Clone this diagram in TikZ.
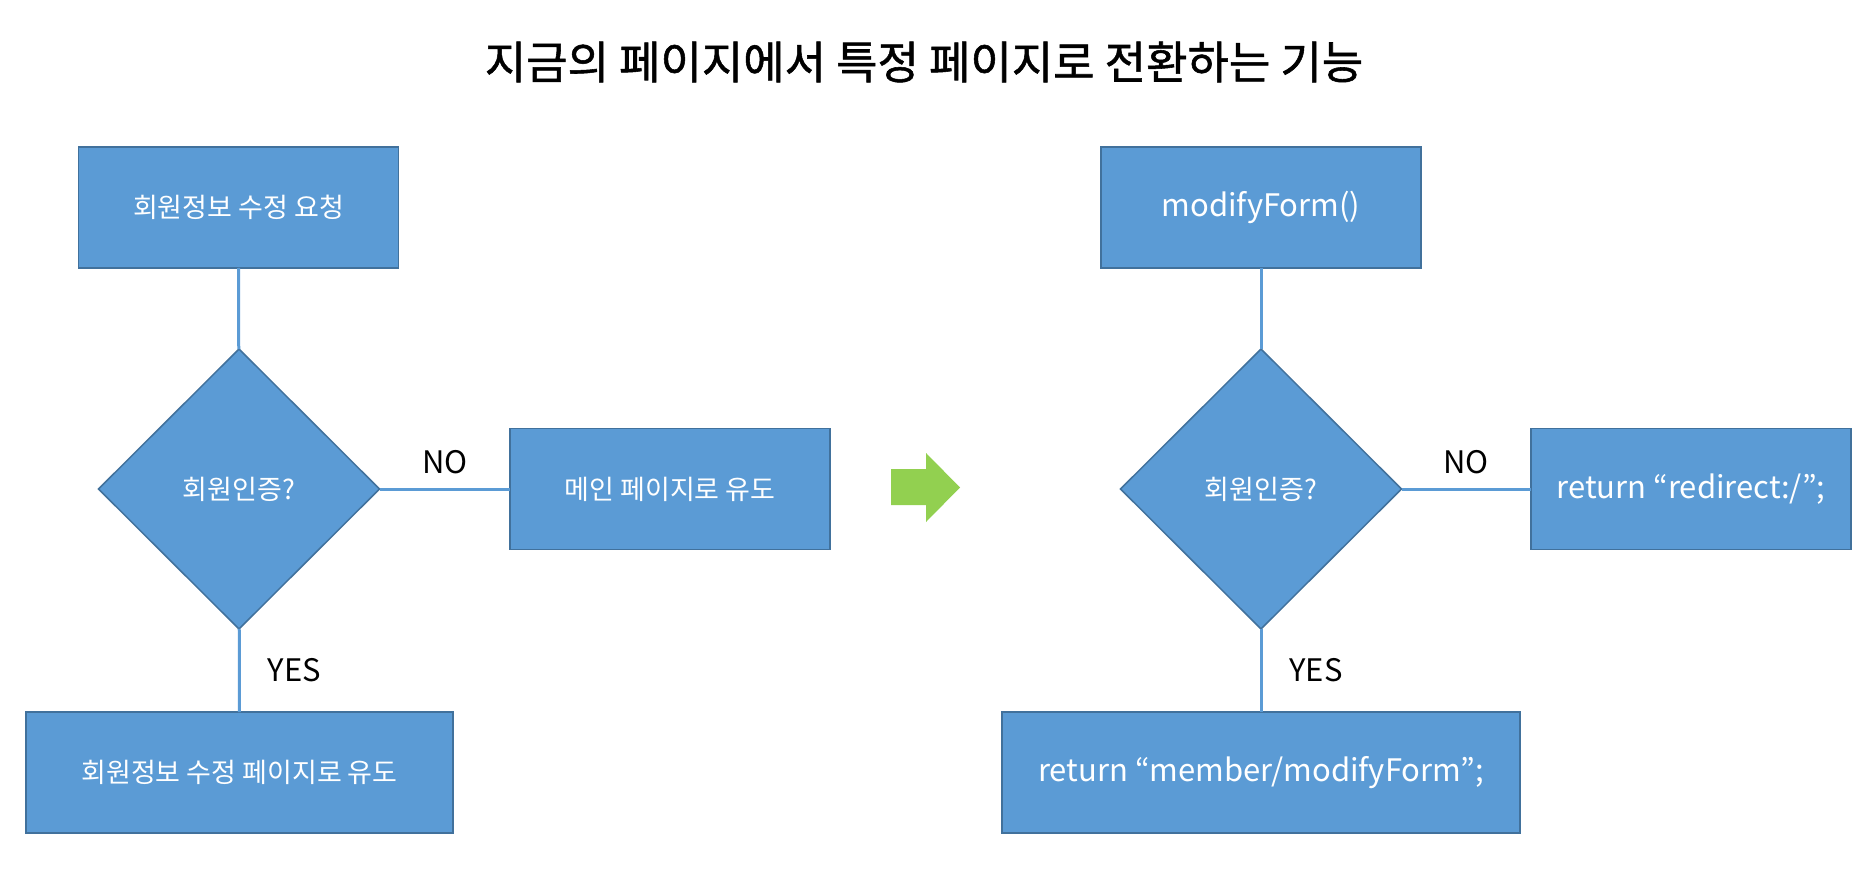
\documentclass[tikz,border=0pt]{standalone}
\usepackage{fontspec}
\setmainfont{Noto Sans CJK KR}
\newfontfamily\headfont[FakeBold=1.2]{Noto Sans CJK KR}
\usetikzlibrary{shapes.geometric}
\definecolor{boxColor}{HTML}{5B9BD5}
\definecolor{rimColor}{HTML}{41719C}
\definecolor{goColor}{HTML}{92D050}
\newcommand{\boxfont}{\fontsize{27}{32}\selectfont}
\newcommand{\codefont}{\fontsize{31}{36}\selectfont}
\newcommand{\ansfont}{\fontsize{31}{36}\selectfont}

\begin{document}
\begin{tikzpicture}[x=1pt,y=-1pt,
	stepbox/.style={draw=rimColor, fill=boxColor, line width=1.5pt, text=white, font=\boxfont,
		minimum width=320pt, minimum height=121pt, inner sep=0pt, outer sep=0pt},
	testbox/.style={diamond, draw=rimColor, fill=boxColor, line width=1.5pt, text=white, font=\boxfont,
		minimum width=281pt, minimum height=280pt, inner sep=0pt, outer sep=0pt},
	link/.style={draw=boxColor, line width=3pt},
	answer/.style={font=\ansfont, text=black, inner sep=0pt}]
	\useasboundingbox (0,0) rectangle (1860,874);
	\node[font=\headfont\fontsize{45}{52}\selectfont] (title) at (924, 62) {지금의 페이지에서 특정 페이지로 전환하는 기능};
	
	% before
	\node[stepbox] (q0) at (238.5, 207.5) {회원정보 수정 요청};
	\node[testbox] (q1) at (239, 489) {회원인증?};
	\node[stepbox] (q2) at (670, 489) {메인 페이지로 유도};
	\node[stepbox, minimum width=427pt] (q3) at (239.5, 772.5) {회원정보 수정 페이지로 유도};
	
	\path[link] (q0) -- (q1);
	\path[link] (q1) -- node[answer, above=14pt] {NO} (q2);
	\path[link] (q1) -- node[answer, right=27pt] {YES} (q3);
	
	% switch
	\fill[goColor] (891,469) -- (926,469) -- (926,453) -- (960,487.5) -- (926,522) -- (926,505) -- (891,505) -- cycle;
	
	% after
	\node[stepbox, font=\codefont] (r0) at (1261, 207.5) {modifyForm()};
	\node[testbox] (r1) at (1261, 489) {회원인증?};
	\node[stepbox, font=\codefont] (r2) at (1691, 489) {return “redirect:/”;};
	\node[stepbox, font=\codefont, minimum width=518pt] (r3) at (1261, 772.5) {return “member/modifyForm”;};
	
	\path[link] (r0) -- (r1);
	\path[link] (r1) -- node[answer, above=14pt] {NO} (r2);
	\path[link] (r1) -- node[answer, right=27pt] {YES} (r3);
\end{tikzpicture}
\end{document}
